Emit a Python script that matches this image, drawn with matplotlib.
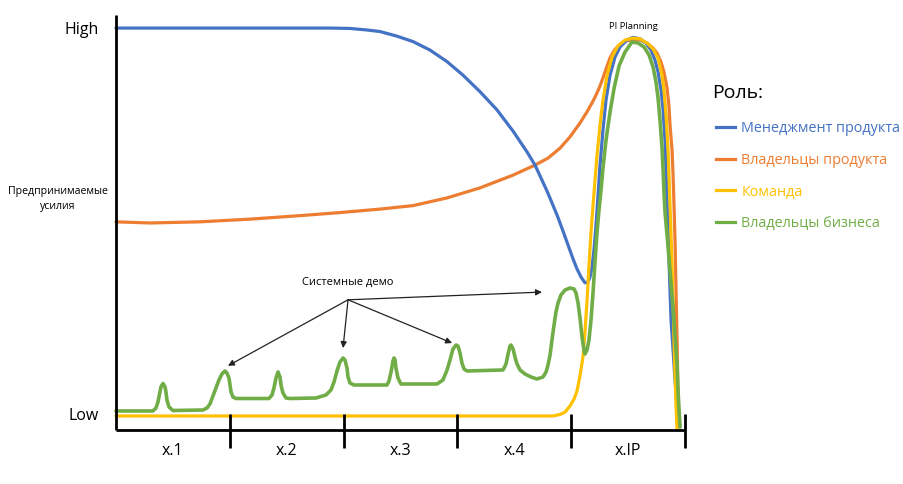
import matplotlib
matplotlib.use("Agg")
import matplotlib.pyplot as plt
from matplotlib.lines import Line2D

plt.rcParams['font.family'] = ['Open Sans', 'DejaVu Sans']

# x: working days of the PI (5 iterations x 10 days), y: effort in % (Low=0, High=100)
iteration_labels = ["x.1", "x.2", "x.3", "x.4", "x.IP"]
iteration_edges = [10, 20, 30, 40, 50]
iteration_centers = [5, 15, 25, 35, 45]

roles = ["Менеджмент продукта", "Владельцы продукта", "Команда", "Владельцы бизнеса"]
colors = ["#4472C4", "#ED7D31", "#FFC000", "#70AD47"]

pm_day = [0, 18.80, 20.56, 22.06, 23.20, 24.69, 26.10, 27.59, 29.09, 30.49,
          31.99, 33.48, 34.89, 36.12, 36.82, 37.87, 38.75, 39.28, 39.72, 40.16,
          40.51, 40.86, 41.21, 41.48, 41.65, 41.83, 42.00, 42.18, 42.36, 42.53,
          42.79, 43.06, 43.41, 43.85, 44.29, 44.90, 45.43, 46.05, 46.57, 47.01,
          47.36, 47.63, 47.89, 48.07, 48.24, 48.33, 48.42, 48.51, 48.59, 48.68,
          48.77, 48.95, 49.12, 49.30, 49.56]
pm_eff = [100.5, 100.5, 100.4, 100.0, 99.6, 98.4, 97.0, 94.8, 91.8, 88.3,
          84.0, 79.3, 73.8, 68.4, 65.0, 58.3, 52.1, 47.9, 44.3, 40.7,
          38.1, 36.0, 34.5, 34.7, 36.0, 38.6, 43.0, 49.5, 57.3, 65.0,
          74.1, 81.9, 88.3, 93.0, 95.6, 97.4, 98.1, 97.7, 96.6, 94.8,
          92.2, 89.1, 84.5, 79.3, 71.5, 63.7, 56.0, 48.2, 40.4, 32.6,
          24.9, 17.1, 9.3, 2.8, -2.8]

po_day = [0, 2.99, 7.38, 11.78, 16.17, 19.68, 23.20, 26.10, 29.09, 31.99,
          34.89, 36.82, 37.96, 39.02, 39.89, 40.77, 41.39, 41.92, 42.27, 42.53,
          42.79, 43.06, 43.41, 43.85, 44.29, 44.82, 45.34, 46.05, 46.66, 47.19,
          47.54, 47.89, 48.15, 48.42, 48.59, 48.68, 48.86, 48.95, 49.03, 49.12,
          49.21, 49.30, 49.38, 49.47]
po_eff = [50.3, 50.0, 50.3, 51.0, 51.9, 52.7, 53.6, 54.5, 56.5, 59.1,
          62.4, 65.0, 66.8, 69.4, 72.3, 75.9, 78.8, 81.6, 83.7, 85.5,
          87.6, 89.9, 92.8, 95.0, 96.2, 97.2, 97.4, 97.4, 96.6, 95.3,
          94.0, 91.7, 89.1, 85.0, 80.3, 75.4, 68.9, 62.4, 54.7, 45.6,
          32.6, 19.7, 6.7, -2.8]

team_day = [0, 38.40, 39.02, 39.46, 39.89, 40.25, 40.51, 40.77, 41.04, 41.21,
            41.39, 41.56, 41.74, 41.92, 42.09, 42.27, 42.53, 42.79, 43.15, 43.59,
            44.11, 44.73, 45.43, 46.05, 46.66, 47.19, 47.63, 47.98, 48.15, 48.33,
            48.51, 48.59, 48.68, 48.77, 48.86, 48.95, 49.03, 49.12, 49.21, 49.30]
team_eff = [0, 0, 0.4, 1.0, 2.6, 4.4, 6.5, 10.4, 15.5, 21.8,
            29.8, 38.9, 47.7, 54.7, 61.1, 67.6, 75.4, 81.9, 88.3, 93.0,
            95.9, 97.4, 97.9, 97.7, 96.6, 95.1, 92.7, 88.3, 84.5, 78.0,
            68.9, 62.4, 54.7, 46.9, 39.1, 30.1, 19.7, 10.6, 2.8, -3.6]

bo_day = [0.00, 3.25, 3.51, 3.69, 3.87, 3.95, 4.13, 4.31, 4.39, 4.48,
          4.66, 5.01, 7.64, 8.00, 8.26, 8.52, 8.79, 9.05, 9.31, 9.58,
          9.75, 9.93, 10.02, 10.11, 10.28, 10.54, 13.44, 13.71, 13.88, 14.06,
          14.24, 14.41, 14.50, 14.67, 14.94, 15.29, 17.57, 18.45, 18.89, 19.16,
          19.42, 19.68, 19.95, 20.12, 20.30, 20.39, 20.56, 20.91, 23.81, 23.99,
          24.17, 24.34, 24.43, 24.52, 24.60, 24.78, 25.04, 28.21, 28.73, 29.09,
          29.35, 29.61, 29.88, 30.05, 30.23, 30.40, 30.58, 30.84, 34.01, 34.27,
          34.45, 34.62, 34.71, 34.89, 35.06, 35.24, 35.50, 35.94, 36.47, 36.99,
          37.52, 37.79, 37.96, 38.14, 38.31, 38.49, 38.66, 38.84, 39.10, 39.46,
          39.89, 40.25, 40.42, 40.60, 40.77, 40.95, 41.12, 41.21, 41.39, 41.56,
          41.74, 41.92, 42.09, 42.27, 42.44, 42.62, 42.79, 43.06, 43.41, 43.77,
          44.20, 44.73, 45.34, 45.87, 46.40, 46.84, 47.19, 47.45, 47.63, 47.80,
          47.98, 48.07, 48.15, 48.24, 48.42, 48.59, 48.77, 48.95, 49.12, 49.30,
          49.38, 49.56]
bo_eff = [1.30, 1.30, 2.07, 3.63, 6.22, 7.51, 8.42, 7.51, 6.22, 4.15,
          2.33, 1.42, 1.55, 2.07, 3.11, 5.18, 7.25, 9.33, 10.88, 11.66,
          11.14, 9.84, 8.03, 6.22, 4.92, 4.53, 4.53, 5.44, 7.25, 9.84,
          11.40, 10.10, 8.03, 5.96, 4.66, 4.53, 4.66, 5.44, 6.74, 8.81,
          11.66, 13.99, 15.03, 14.51, 12.44, 10.10, 8.55, 8.03, 8.03, 9.07,
          11.40, 14.25, 15.03, 14.51, 12.44, 9.84, 8.29, 8.29, 9.33, 11.92,
          14.51, 17.36, 18.39, 18.13, 16.32, 13.73, 12.18, 11.66, 11.92, 13.47,
          16.06, 18.13, 18.39, 17.36, 15.28, 13.47, 11.92, 10.88, 10.10, 9.59,
          10.10, 11.40, 13.21, 15.80, 19.69, 23.58, 26.94, 29.27, 31.35, 32.64,
          33.16, 32.90, 31.87, 29.27, 25.39, 20.47, 17.10, 16.06, 17.10, 19.69,
          24.87, 32.12, 39.90, 47.67, 53.37, 58.55, 64.25, 71.50, 78.76, 84.97,
          90.67, 94.30, 96.89, 96.63, 95.60, 93.52, 90.41, 86.53, 82.38, 76.68,
          69.43, 63.73, 58.03, 52.85, 46.89, 40.93, 34.72, 27.98, 20.98, 13.21,
          6.74, -2.85]

demo_label = "Системные демо"
demo_origin = (20.39, 30.1)
demo_targets_day = [9.84, 19.95, 29.53, 37.43]
demo_targets_eff = [13.0, 17.6, 18.9, 32.1]

fig = plt.figure(figsize=(9.04, 4.84), dpi=100)
ax = fig.add_axes([0, 0, 1, 1])
ax.set_xlim(-10.19, 69.24)
ax.set_ylim(-17.62, 107.77)
ax.axis('off')

# axes
ax.plot([0, 0], [-3.6, 103.9], color='black', lw=2.0, solid_capstyle='butt', zorder=6)
ax.plot([0, 50], [-3.6, -3.6], color='black', lw=2.0, solid_capstyle='butt', zorder=6)
ax.vlines(iteration_edges, 0.5, -8.3, color='black', lw=2.0, zorder=6)
for c, lab in zip(iteration_centers, iteration_labels):
    ax.text(c, -9.0, lab, ha='center', va='center', fontsize=11.5, color='black')

ax.text(-1.5, 100, "High", ha='right', va='center', fontsize=11.5)
ax.text(-1.5, 0, "Low", ha='right', va='center', fontsize=11.5)
ax.text(-5.1, 56.2, "Предпринимаемые\nусилия", ha='center', va='center', fontsize=7.6,
        linespacing=1.45)

series = [(pm_day, pm_eff), (po_day, po_eff), (team_day, team_eff), (bo_day, bo_eff)]
zorders = [3, 2, 4, 5]
widths = [2.3, 2.3, 2.3, 2.6]
for (xs, ys), col, z, w, lab in zip(series, colors, zorders, widths, roles):
    ax.plot(xs, ys, color=col, lw=w, zorder=z, solid_joinstyle='round',
            solid_capstyle='round', label=lab)

ax.text(45.43, 101.0, "PI Planning", ha='center', va='center', fontsize=6.8)

ax.text(demo_origin[0], demo_origin[1] + 4.4, demo_label, ha='center', va='center', fontsize=8)
for tx, ty in zip(demo_targets_day, demo_targets_eff):
    ax.annotate('', xy=(tx, ty), xytext=demo_origin,
                arrowprops=dict(arrowstyle='-|>', color='#222222', lw=0.9,
                                mutation_scale=9, shrinkA=0, shrinkB=0))

ax.text(52.4, 83.7, "Роль:", ha='left', va='center', fontsize=14)
leg_handles = [Line2D([0], [0], color=c, lw=2.3) for c in colors]
fig.legend(leg_handles, roles, loc='upper left', bbox_to_anchor=(716 / 904, 1 - 121 / 484),
           frameon=False, fontsize=10.4, labelcolor=colors, handlelength=1.32,
           handletextpad=0.42, labelspacing=1.16, borderpad=0, borderaxespad=0)

fig.savefig("out.png", dpi=100)
